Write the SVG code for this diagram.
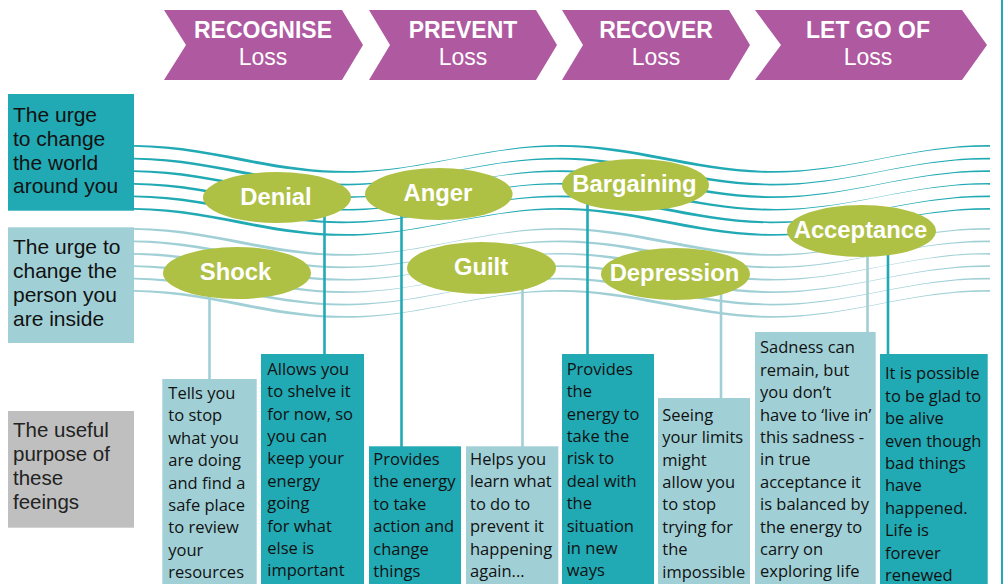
<svg xmlns="http://www.w3.org/2000/svg" xmlns:xlink="http://www.w3.org/1999/xlink" width="1004" height="584" viewBox="0 0 1004 584">
<style>
.chev{fill:#AF59A1}
.ct{font-family:"Liberation Sans",Arial,sans-serif;font-size:23px;fill:#fff;text-anchor:middle}
.ctb{font-weight:bold}
.dark{fill:#21A9B4}
.light{fill:#A0D0D6}
.grey{fill:#BFBFBF}
.lab{font-family:"Liberation Sans",Arial,sans-serif;font-size:21px;fill:#111}
.ell{fill:#AFC145}
.et{font-family:"Liberation Sans",Arial,sans-serif;font-size:23.8px;font-weight:bold;fill:#fff;text-anchor:middle}
.bt{font-family:"Open Sans","Liberation Sans",sans-serif;font-size:16.5px;fill:#111}
.cd{stroke:#21A9B4;stroke-width:2.6;fill:none}
.cl{stroke:#A0D0D6;stroke-width:2.6;fill:none}
</style>
<defs>
<path id="rib" d="M-80,26 C-2,26 56,0 134,0 C212,0 270,26 348,26 C426,26 484,0 562,0 C640,0 698,26 776,26 C854,26 912,0 990,0 C1068,0 1126,26 1204,26 L1198,27.7 C1120,27.7 1062,1.7 984,1.7 C906,1.7 848,27.7 770,27.7 C692,27.7 634,1.7 556,1.7 C478,1.7 420,27.7 342,27.7 C264,27.7 206,1.7 128,1.7 C50,1.7 -8,27.7 -86,27.7 Z"/>
<clipPath id="wc"><rect x="134" y="0" width="856" height="584"/></clipPath>
</defs>
<rect width="1004" height="584" fill="#fff"/>

<g id="waves" clip-path="url(#wc)">
<g fill="#21A9B4">
<use xlink:href="#rib" href="#rib" y="145.1"/>
<use xlink:href="#rib" href="#rib" y="157.7"/>
<use xlink:href="#rib" href="#rib" y="170.3"/>
<use xlink:href="#rib" href="#rib" y="182.9"/>
<use xlink:href="#rib" href="#rib" y="195.5"/>
<use xlink:href="#rib" href="#rib" y="208.1"/>
</g>
<g fill="#A0D0D6">
<use xlink:href="#rib" href="#rib" y="228.1"/>
<use xlink:href="#rib" href="#rib" y="240.5"/>
<use xlink:href="#rib" href="#rib" y="252.9"/>
<use xlink:href="#rib" href="#rib" y="265.3"/>
<use xlink:href="#rib" href="#rib" y="277.7"/>
<use xlink:href="#rib" href="#rib" y="290.1"/>
</g>
</g>

<line x1="1002" y1="0" x2="1002" y2="584" stroke="#21A9B4" stroke-width="2"/>

<g id="connectors">
<line class="cl" x1="209.5" y1="290" x2="209.5" y2="380"/>
<line class="cd" x1="324.5" y1="215" x2="324.5" y2="355"/>
<line class="cd" x1="401.5" y1="210" x2="401.5" y2="447"/>
<line class="cl" x1="522.5" y1="285" x2="522.5" y2="447"/>
<line class="cd" x1="587.5" y1="200" x2="587.5" y2="355"/>
<line class="cl" x1="721" y1="290" x2="721" y2="399"/>
<line class="cl" x1="867.5" y1="250" x2="867.5" y2="333"/>
<line class="cd" x1="888" y1="250" x2="888" y2="355"/>
</g>

<g id="stage-recognise">
<polygon class="chev" points="164,10 342,10 363,45 342,80 164,80 186,45"/>
<text class="ct ctb" x="263" y="38.3">RECOGNISE</text>
<text class="ct" x="263" y="65">Loss</text>
</g>
<g id="stage-prevent">
<polygon class="chev" points="369,10 536,10 557,45 536,80 369,80 390,45"/>
<text class="ct ctb" x="463" y="38.3">PREVENT</text>
<text class="ct" x="463" y="65">Loss</text>
</g>
<g id="stage-recover">
<polygon class="chev" points="562,10 729,10 750,45 729,80 562,80 583,45"/>
<text class="ct ctb" x="656" y="38.3">RECOVER</text>
<text class="ct" x="656" y="65">Loss</text>
</g>
<g id="stage-letgo">
<polygon class="chev" points="755,10 962,10 987,45 962,80 755,80 781,45"/>
<text class="ct ctb" x="868" y="38.3">LET GO OF</text>
<text class="ct" x="868" y="65">Loss</text>
</g>

<g id="label-world">
<rect class="dark" x="8" y="94" width="126" height="116.7"/>
<text class="lab"><tspan x="13" y="121.7">The urge</tspan><tspan x="13" y="145.6">to change</tspan><tspan x="13" y="169.5">the world</tspan><tspan x="13" y="193.4">around you</tspan></text>
</g>
<g id="label-person">
<rect class="light" x="8" y="227.3" width="126" height="115.7"/>
<text class="lab"><tspan x="13" y="254">The urge to</tspan><tspan x="13" y="278">change the</tspan><tspan x="13" y="302">person you</tspan><tspan x="13" y="326">are inside</tspan></text>
</g>
<g id="label-purpose">
<rect class="grey" x="8" y="411" width="126" height="116.7"/>
<text class="lab" style="font-size:20.5px;fill:#222"><tspan x="13" y="437">The useful</tspan><tspan x="13" y="461">purpose of</tspan><tspan x="13" y="485">these</tspan><tspan x="13" y="509">feeings</tspan></text>
</g>

<g id="denial">
<ellipse class="ell" cx="277" cy="197.5" rx="74" ry="25.5"/>
<text class="et" x="276" y="204.5">Denial</text>
</g>
<g id="shock">
<ellipse class="ell" cx="237" cy="273" rx="74" ry="26"/>
<text class="et" x="235.5" y="280">Shock</text>
</g>
<g id="anger">
<ellipse class="ell" cx="438.8" cy="194" rx="73.8" ry="26"/>
<text class="et" x="438" y="200.5">Anger</text>
</g>
<g id="guilt">
<ellipse class="ell" cx="481.5" cy="268" rx="74.5" ry="26"/>
<text class="et" x="481" y="274.5">Guilt</text>
</g>
<g id="bargaining">
<ellipse class="ell" cx="635.5" cy="185" rx="73.5" ry="26"/>
<text class="et" x="634.5" y="191.7">Bargaining</text>
</g>
<g id="depression">
<ellipse class="ell" cx="675.5" cy="274" rx="74.5" ry="26"/>
<text class="et" x="674.5" y="280.5">Depression</text>
</g>
<g id="acceptance">
<ellipse class="ell" cx="861.5" cy="231" rx="74.5" ry="26"/>
<text class="et" x="860.5" y="237.5">Acceptance</text>
</g>

<g id="purpose-shock">
<rect class="light" x="162.3" y="379" width="94.4" height="205"/>
<text class="bt"><tspan x="168.3" y="399">Tells you</tspan><tspan x="168.3" y="421.4">to stop</tspan><tspan x="168.3" y="443.8">what you</tspan><tspan x="168.3" y="466.2">are doing</tspan><tspan x="168.3" y="488.6">and find a</tspan><tspan x="168.3" y="511">safe place</tspan><tspan x="168.3" y="533.4">to review</tspan><tspan x="168.3" y="555.8">your</tspan><tspan x="168.3" y="578.2">resources</tspan></text>
</g>
<g id="purpose-denial">
<rect class="dark" x="261" y="354" width="103" height="230"/>
<text class="bt"><tspan x="267.3" y="374.7">Allows you</tspan><tspan x="267.3" y="397.1">to shelve it</tspan><tspan x="267.3" y="419.5">for now, so</tspan><tspan x="267.3" y="441.9">you can</tspan><tspan x="267.3" y="464.3">keep your</tspan><tspan x="267.3" y="486.7">energy</tspan><tspan x="267.3" y="509.1">going</tspan><tspan x="267.3" y="531.5">for what</tspan><tspan x="267.3" y="553.9">else is</tspan><tspan x="267.3" y="576.3">important</tspan></text>
</g>
<g id="purpose-anger">
<rect class="dark" x="369" y="446.3" width="92" height="137.7"/>
<text class="bt"><tspan x="373.3" y="465">Provides</tspan><tspan x="373.3" y="487.4">the energy</tspan><tspan x="373.3" y="509.8">to take</tspan><tspan x="373.3" y="532.2">action and</tspan><tspan x="373.3" y="554.6">change</tspan><tspan x="373.3" y="577">things</tspan></text>
</g>
<g id="purpose-guilt">
<rect class="light" x="466" y="446.3" width="92.3" height="137.7"/>
<text class="bt"><tspan x="470" y="465">Helps you</tspan><tspan x="470" y="487.4">learn what</tspan><tspan x="470" y="509.8">to do to</tspan><tspan x="470" y="532.2">prevent it</tspan><tspan x="470" y="554.6">happening</tspan><tspan x="470" y="577">again...</tspan></text>
</g>
<g id="purpose-bargaining">
<rect class="dark" x="562" y="354" width="92" height="230"/>
<text class="bt"><tspan x="566.7" y="374.7">Provides</tspan><tspan x="566.7" y="397.1">the</tspan><tspan x="566.7" y="419.5">energy to</tspan><tspan x="566.7" y="441.9">take the</tspan><tspan x="566.7" y="464.3">risk to</tspan><tspan x="566.7" y="486.7">deal with</tspan><tspan x="566.7" y="509.1">the</tspan><tspan x="566.7" y="531.5">situation</tspan><tspan x="566.7" y="553.9">in new</tspan><tspan x="566.7" y="576.3">ways</tspan></text>
</g>
<g id="purpose-depression">
<rect class="light" x="658" y="398" width="92" height="186"/>
<text class="bt"><tspan x="662.3" y="420.7">Seeing</tspan><tspan x="662.3" y="443.1">your limits</tspan><tspan x="662.3" y="465.5">might</tspan><tspan x="662.3" y="487.9">allow you</tspan><tspan x="662.3" y="510.3">to stop</tspan><tspan x="662.3" y="532.7">trying for</tspan><tspan x="662.3" y="555.1">the</tspan><tspan x="662.3" y="577.5">impossible</tspan></text>
</g>
<g id="purpose-acceptance-sadness">
<rect class="light" x="755" y="332" width="120.7" height="252"/>
<text class="bt"><tspan x="760" y="353.3">Sadness can</tspan><tspan x="760" y="375.7">remain, but</tspan><tspan x="760" y="398.1">you don’t</tspan><tspan x="760" y="420.5">have to ‘live in’</tspan><tspan x="760" y="442.9">this sadness -</tspan><tspan x="760" y="465.3">in true</tspan><tspan x="760" y="487.7">acceptance it</tspan><tspan x="760" y="510.1">is balanced by</tspan><tspan x="760" y="532.5">the energy to</tspan><tspan x="760" y="554.9">carry on</tspan><tspan x="760" y="577.3">exploring life</tspan></text>
</g>
<g id="purpose-acceptance-glad">
<rect class="dark" x="880" y="354" width="107.7" height="230"/>
<text class="bt"><tspan x="885" y="379.3">It is possible</tspan><tspan x="885" y="401.7">to be glad to</tspan><tspan x="885" y="424.1">be alive</tspan><tspan x="885" y="446.5">even though</tspan><tspan x="885" y="468.9">bad things</tspan><tspan x="885" y="491.3">have</tspan><tspan x="885" y="513.7">happened.</tspan><tspan x="885" y="536.1">Life is</tspan><tspan x="885" y="558.5">forever</tspan><tspan x="885" y="580.9">renewed</tspan></text>
</g>
</svg>
